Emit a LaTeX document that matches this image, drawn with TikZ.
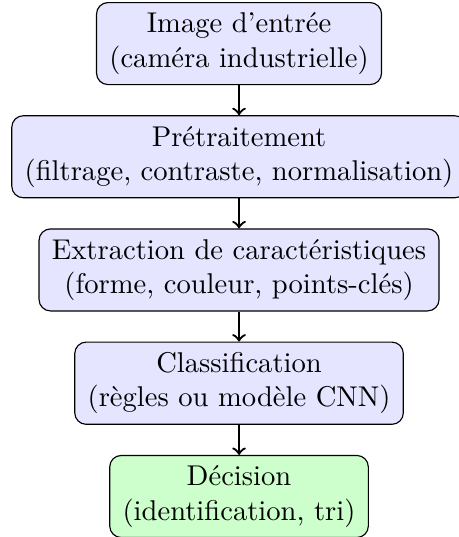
\documentclass[tikz,border=0pt]{standalone}
\usepackage{fontspec}
\usetikzlibrary{positioning}
\begin{document}
\begin{tikzpicture}[
  node distance=10.5pt,
  etape/.style={draw, rounded corners, fill=blue!10, align=center, inner xsep=4.5pt, inner ysep=3.6pt},
  fin/.style={etape, fill=green!20},
  fleche/.style={->, thick}
]
\node[etape] (img) {Image d'entrée\\(caméra industrielle)};
\node[etape, below=of img] (pre) {Prétraitement\\(filtrage, contraste, normalisation)};
\node[etape, below=of pre] (extr) {Extraction de caractéristiques\\(forme, couleur, points-clés)};
\node[etape, below=of extr] (classif) {Classification\\(règles ou modèle CNN)};
\node[fin, below=of classif] (dec) {Décision\\(identification, tri)};
\foreach \a/\b in {img/pre,pre/extr,extr/classif,classif/dec}
  \draw[fleche] (\a) -- (\b);
\pgfresetboundingbox
\useasboundingbox ([xshift=-83.6pt,yshift=0.7pt]img.north) rectangle ++(160.5pt,-187.8pt);
\end{tikzpicture}
\end{document}
